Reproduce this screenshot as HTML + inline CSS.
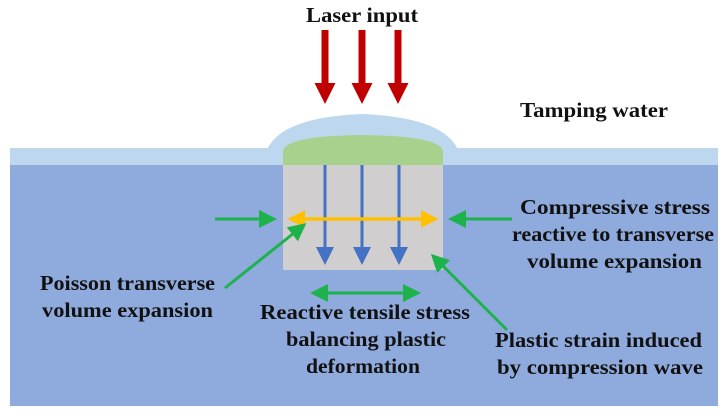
<!DOCTYPE html>
<html><head><style>
body{margin:0;background:#fff;}
svg text{font-family:"Liberation Serif",serif;font-weight:bold;font-size:21px;fill:#111;}
</style></head><body>
<svg width="723" height="414" viewBox="0 0 723 414" xmlns="http://www.w3.org/2000/svg">
<defs>
<marker id="g" markerWidth="6" markerHeight="6" refX="5" refY="3" orient="auto-start-reverse" markerUnits="strokeWidth"><path d="M0,0 L6,3 L0,6 z" fill="#1db24b"/></marker>
<marker id="y" markerWidth="5" markerHeight="5" refX="4" refY="2.5" orient="auto-start-reverse" markerUnits="strokeWidth"><path d="M0,0 L5,2.5 L0,5 z" fill="#ffc000"/></marker>
<marker id="b" markerWidth="6" markerHeight="6" refX="5" refY="3" orient="auto" markerUnits="strokeWidth"><path d="M0,0 L6,3 L0,6 z" fill="#4472c4"/></marker>
<marker id="r" markerWidth="3" markerHeight="3" refX="2" refY="1.5" orient="auto" markerUnits="strokeWidth"><path d="M0,0 L3,1.5 L0,3 z" fill="#c00000"/></marker>
</defs>
<rect x="10" y="148" width="708" height="258" fill="#8faadc"/>
<rect x="10" y="148" width="708" height="17" fill="#bdd7ee"/>
<path d="M264,165 Q264,118 362,114 Q461,118 461,165 Z" fill="#bdd7ee"/>
<path d="M283,165 L283,152 Q283,136 362,135 Q443,136 443,152 L443,165 Z" fill="#a9d18e"/>
<rect x="283" y="165" width="160" height="105" fill="#d0cece"/>
<g stroke="#4472c4" stroke-width="3">
<line x1="325" y1="165" x2="325" y2="262" marker-end="url(#b)"/>
<line x1="362" y1="165" x2="362" y2="262" marker-end="url(#b)"/>
<line x1="399" y1="165" x2="399" y2="262" marker-end="url(#b)"/>
</g>
<g stroke="#c00000" stroke-width="7">
<line x1="325" y1="30" x2="325" y2="97" marker-end="url(#r)"/>
<line x1="362" y1="30" x2="362" y2="97" marker-end="url(#r)"/>
<line x1="398" y1="30" x2="398" y2="97" marker-end="url(#r)"/>
</g>
<line x1="291" y1="219" x2="435" y2="219" stroke="#ffc000" stroke-width="3.5" marker-start="url(#y)" marker-end="url(#y)"/>
<g stroke="#1db24b" stroke-width="3" fill="none">
<line x1="215" y1="219" x2="274" y2="219" marker-end="url(#g)"/>
<line x1="512" y1="219" x2="451" y2="219" marker-end="url(#g)"/>
<line x1="225" y1="288" x2="304" y2="225" marker-end="url(#g)"/>
<line x1="507" y1="330" x2="433" y2="256" marker-end="url(#g)"/>
<line x1="313" y1="293" x2="418" y2="293" marker-start="url(#g)" marker-end="url(#g)"/>
</g>
<g lengthAdjust="spacingAndGlyphs">
<text x="306" y="22" textLength="112" lengthAdjust="spacingAndGlyphs">Laser input</text>
<text x="520" y="117" textLength="148" lengthAdjust="spacingAndGlyphs">Tamping water</text>
<text x="520" y="214" textLength="190" lengthAdjust="spacingAndGlyphs">Compressive stress</text>
<text x="512" y="241" textLength="202" lengthAdjust="spacingAndGlyphs">reactive to transverse</text>
<text x="527" y="268" textLength="175" lengthAdjust="spacingAndGlyphs">volume expansion</text>
<text x="40" y="290" textLength="175" lengthAdjust="spacingAndGlyphs">Poisson transverse</text>
<text x="42" y="317" textLength="171" lengthAdjust="spacingAndGlyphs">volume expansion</text>
<text x="260" y="319" textLength="210" lengthAdjust="spacingAndGlyphs">Reactive tensile stress</text>
<text x="286" y="346" textLength="160" lengthAdjust="spacingAndGlyphs">balancing plastic</text>
<text x="306" y="373" textLength="114" lengthAdjust="spacingAndGlyphs">deformation</text>
<text x="495" y="347" textLength="207" lengthAdjust="spacingAndGlyphs">Plastic strain induced</text>
<text x="497" y="374" textLength="206" lengthAdjust="spacingAndGlyphs">by compression wave</text>
</g>
</svg>
</body></html>
